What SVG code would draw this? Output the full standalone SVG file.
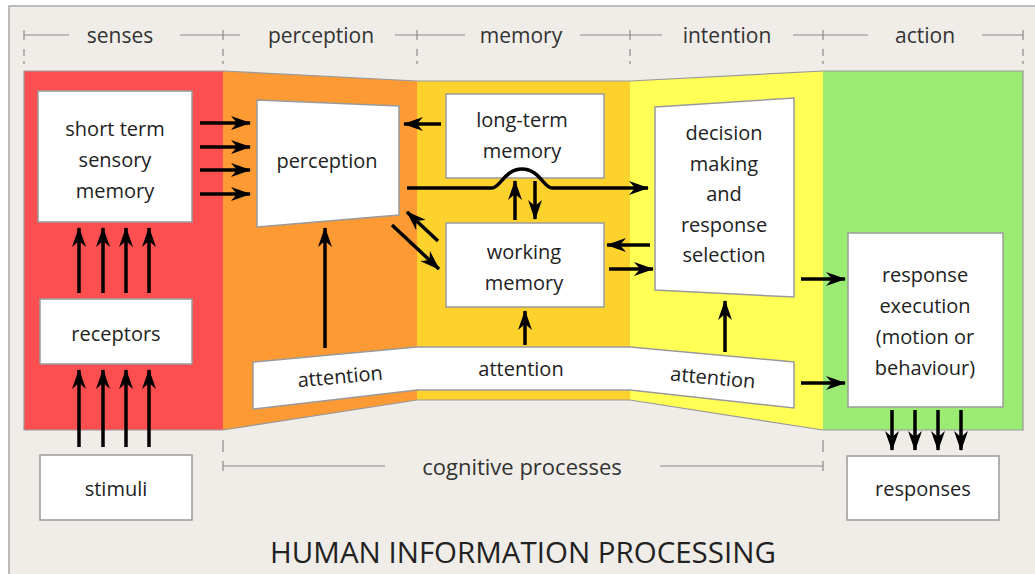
<svg xmlns="http://www.w3.org/2000/svg" width="1035" height="574" viewBox="0 0 1035 574">
<defs>
<style>
.t{font-family:"Open Sans","Liberation Sans",sans-serif;font-size:20px;fill:#222;text-anchor:middle;dominant-baseline:central}
.h{font-family:"Open Sans","Liberation Sans",sans-serif;font-size:21px;fill:#333;text-anchor:middle;dominant-baseline:central}
.box{fill:#fff;stroke:#9a9a9a;stroke-width:1.5}
.scale{stroke:#8a8a8a;stroke-width:1.2;fill:none}
.a{stroke:#000;stroke-width:3.5;fill:none;marker-end:url(#ah)}
</style>
<marker id="ah" viewBox="0 0 20 14" refX="19" refY="7" markerWidth="20" markerHeight="14" markerUnits="userSpaceOnUse" orient="auto">
<path d="M0,0 L20,7 L0,14 L6,7 Z" fill="#000"/>
</marker>
</defs>
<rect x="9" y="6" width="1030" height="575" fill="#f0ede8" stroke="#a8a8a8" stroke-width="1.5"/>

<g id="header-scale">
<path class="scale" d="M24,35 H69 M180,35 H240 M395,35 H465 M580,35 H662 M793,35 H868 M982,35 H1023"/>
<path class="scale" d="M24,30 V40 M223,30 V40 M417,30 V40 M630,30 V40 M823,30 V40 M1023,30 V40"/>
<path class="scale" d="M24,49 V64 M223,49 V64 M417,49 V64 M630,49 V64 M823,49 V64 M1023,49 V64" stroke-dasharray="7 5"/>
<text class="h" x="120" y="35">senses</text>
<text class="h" x="321" y="35">perception</text>
<text class="h" x="521" y="35">memory</text>
<text class="h" x="727" y="35">intention</text>
<text class="h" x="925" y="35">action</text>
</g>

<g id="bands">
<polygon points="24,71 223,71 223,430 24,430" fill="#fd4f4f"/>
<polygon points="223,71 417,81 417,400 223,430" fill="#fd9a34"/>
<polygon points="417,81 630,81 630,400 417,400" fill="#fed22c"/>
<polygon points="630,81 823,71 823,430 630,400" fill="#ffff55"/>
<polygon points="823,71 1023,71 1023,430 823,430" fill="#9cec74"/>
<polygon points="24,71 223,71 417,81 630,81 823,71 1023,71 1023,430 823,430 630,400 417,400 223,430 24,430" fill="none" stroke="#999" stroke-width="1.2"/>
</g>

<g id="attention">
<polygon class="box" points="253,362 417,347 630,347 794,362 794,408 630,390 417,390 253,409"/>
<text class="t" x="340" y="376" transform="rotate(-5.2 340 376)">attention</text>
<text class="t" x="521" y="368">attention</text>
<text class="t" x="713" y="377" transform="rotate(5.2 713 377)">attention</text>
</g>

<g id="stsm">
<rect class="box" x="38" y="91" width="154" height="131"/>
<text class="t" x="115" y="128">short term</text>
<text class="t" x="115" y="159">sensory</text>
<text class="t" x="115" y="190">memory</text>
</g>
<g id="receptors">
<rect class="box" x="40" y="299" width="152" height="65"/>
<text class="t" x="116" y="333">receptors</text>
</g>
<g id="stimuli">
<rect class="box" x="40" y="455" width="152" height="65"/>
<text class="t" x="116" y="488">stimuli</text>
</g>
<g id="perception">
<polygon class="box" points="257,100 399,106 399,215 257,227"/>
<text class="t" x="327" y="160">perception</text>
</g>
<g id="ltm">
<rect class="box" x="446" y="94" width="158" height="84"/>
<text class="t" x="522" y="119">long-term</text>
<text class="t" x="522" y="150">memory</text>
</g>
<g id="wm">
<rect class="box" x="446" y="223" width="158" height="84"/>
<text class="t" x="524" y="251">working</text>
<text class="t" x="524" y="282">memory</text>
</g>
<g id="decision">
<polygon class="box" points="655,107 794,98 794,297 655,290"/>
<text class="t" x="724" y="132">decision</text>
<text class="t" x="724" y="163">making</text>
<text class="t" x="724" y="193">and</text>
<text class="t" x="724" y="224">response</text>
<text class="t" x="724" y="254">selection</text>
</g>
<g id="execution">
<rect class="box" x="848" y="233" width="155" height="174"/>
<text class="t" x="925" y="274">response</text>
<text class="t" x="925" y="305">execution</text>
<text class="t" x="925" y="336">(motion or</text>
<text class="t" x="925" y="367">behaviour)</text>
</g>
<g id="responses">
<rect class="box" x="847" y="456" width="152" height="64"/>
<text class="t" x="923" y="488">responses</text>
</g>

<g id="connectors">
<path class="a" d="M200,123 H250"/>
<path class="a" d="M200,147 H250"/>
<path class="a" d="M200,170 H250"/>
<path class="a" d="M200,194 H250"/>
<path class="a" d="M79,293 V228"/>
<path class="a" d="M103,293 V228"/>
<path class="a" d="M126,293 V228"/>
<path class="a" d="M149,293 V228"/>
<path class="a" d="M79,447 V370"/>
<path class="a" d="M103,447 V370"/>
<path class="a" d="M126,447 V370"/>
<path class="a" d="M149,447 V370"/>
<path class="a" d="M325,348 V228"/>
<path class="a" d="M441,124 H404"/>
<path class="a" d="M407,188 H492 C500,188 505,169 522,169 C539,169 544,188 552,188 H648"/>
<path class="a" d="M515,220 V181"/>
<path class="a" d="M535,181 V219"/>
<path class="a" d="M438,241 L407,212"/>
<path class="a" d="M392,225 L439,269"/>
<path class="a" d="M650,245 H607"/>
<path class="a" d="M609,269 H653"/>
<path class="a" d="M525,345 V311"/>
<path class="a" d="M725,352 V301"/>
<path class="a" d="M801,279 H845"/>
<path class="a" d="M801,383 H845"/>
<path class="a" d="M892,410 V450"/>
<path class="a" d="M915,410 V450"/>
<path class="a" d="M938,410 V450"/>
<path class="a" d="M961,410 V450"/>
</g>

<g id="footer-scale">
<path class="scale" d="M223,466 H385 M660,466 H823 M223,461 V471 M823,461 V471"/>
<path class="scale" d="M223,440 V452 M823,440 V452"/>
<text class="h" x="522" y="466" style="font-size:22px">cognitive processes</text>
<text x="523" y="563" style="font-family:'Open Sans','Liberation Sans',sans-serif;font-size:29.5px;fill:#222;text-anchor:middle">HUMAN INFORMATION PROCESSING</text>
</g>
</svg>
